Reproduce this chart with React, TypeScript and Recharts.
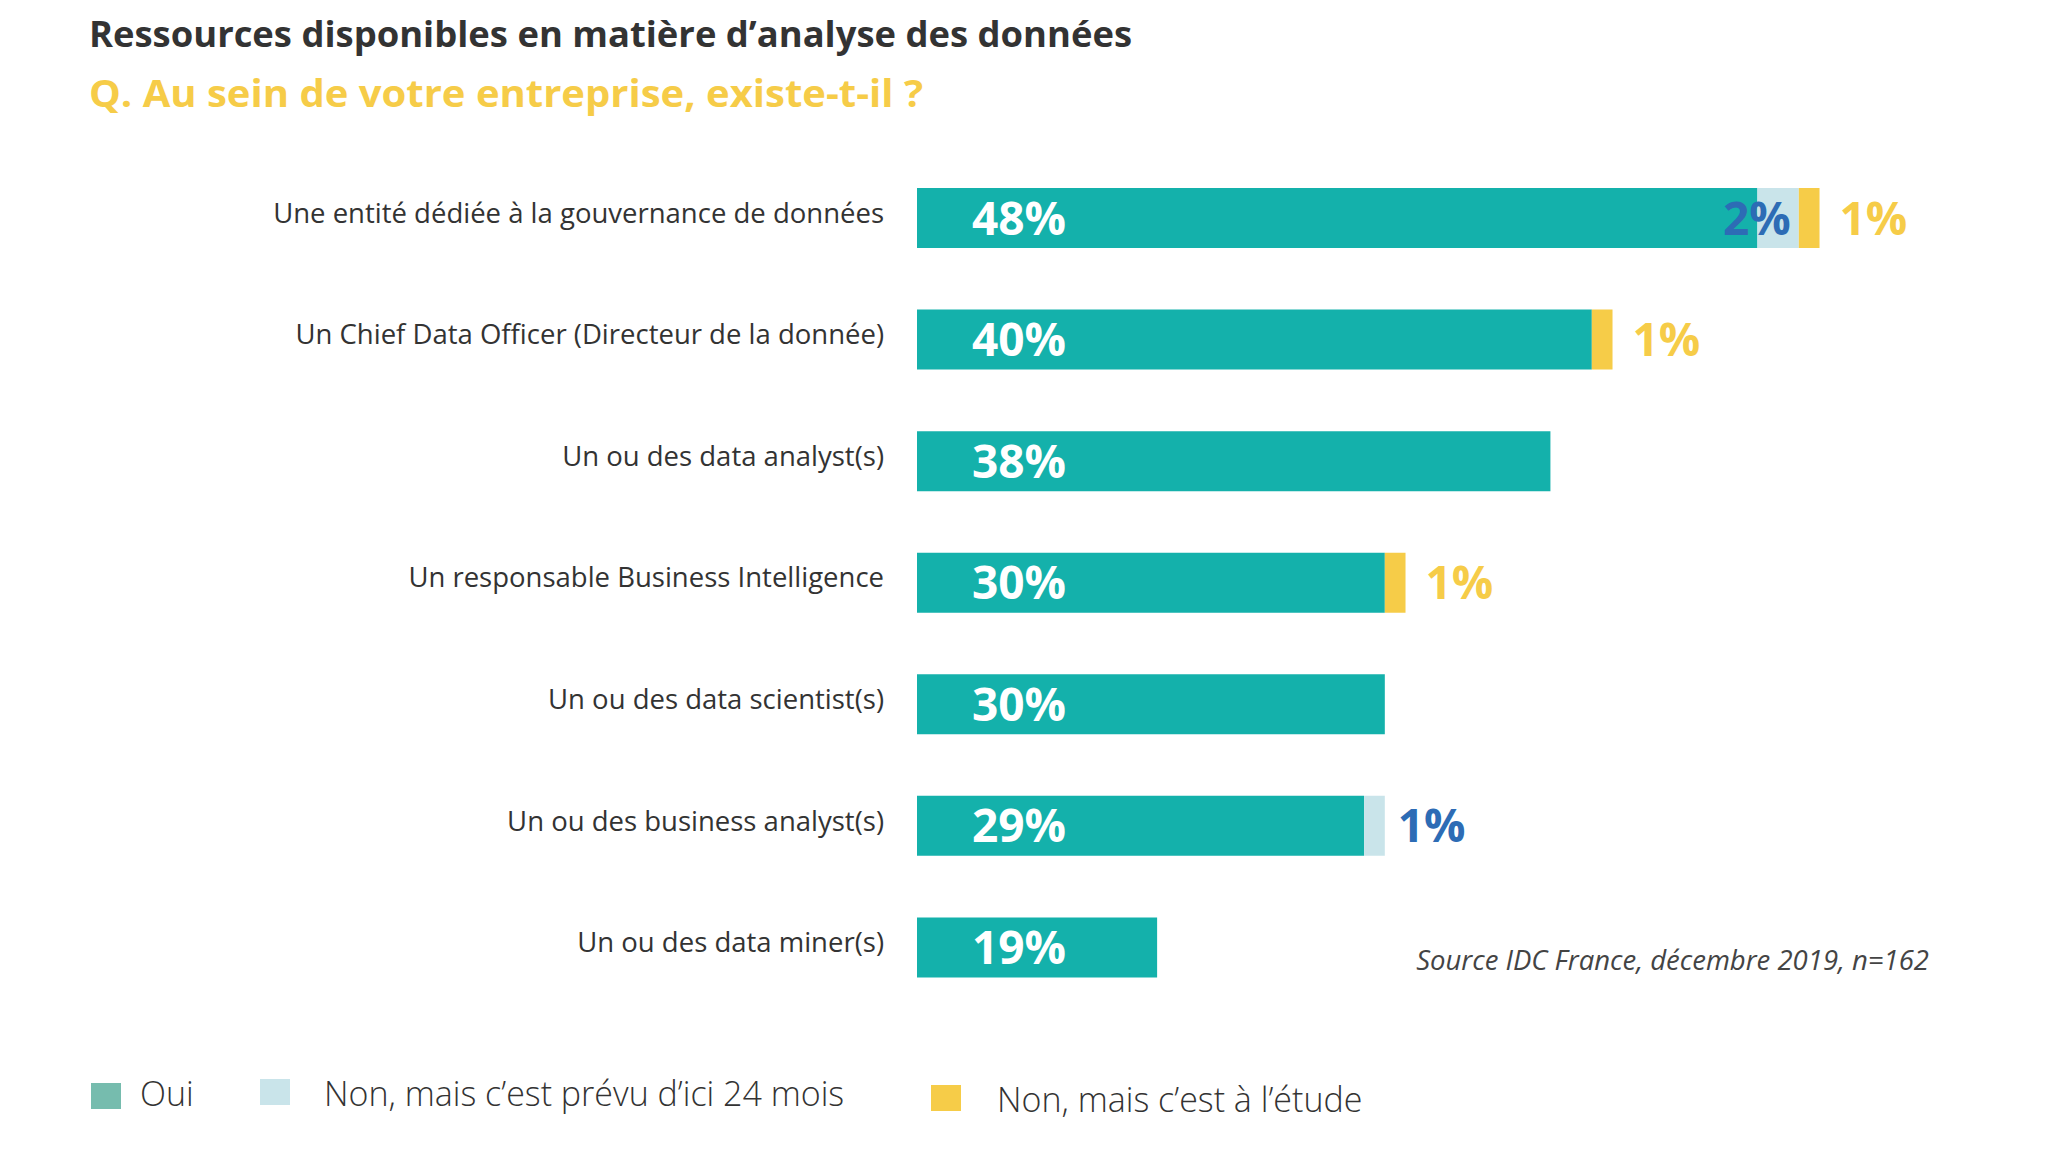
import React from 'react';
import { BarChart, Bar, XAxis, YAxis, LabelList } from 'recharts';

const categories = [
  'Une entité dédiée à la gouvernance de données',
  'Un Chief Data Officer (Directeur de la donnée)',
  'Un ou des data analyst(s)',
  'Un responsable Business Intelligence',
  'Un ou des data scientist(s)',
  'Un ou des business analyst(s)',
  'Un ou des data miner(s)',
];
const oui = [48, 40, 38, 30, 30, 29, 19];
const prevu = [2, 0, 0, 0, 0, 1, 0];
const etude = [1, 1, 0, 1, 0, 0, 0];

const seriesNames = ['Oui', 'Non, mais c’est prévu d’ici 24 mois', 'Non, mais c’est à l’étude'];

const TEAL = '#14b1ab';
const LIGHT = '#c9e4ea';
const YELLOW = '#f6cc48';
const BLUE = '#2d6cb5';
const TEXT = '#333333';
const FONT = '"Open Sans", "Noto Sans", sans-serif';

// the original axis does not start at zero
const AXIS_MIN = 7.4;
const AXIS_MAX = 57.4;

const data = categories.map((name, i) => ({
  name,
  oui: oui[i],
  prevu: prevu[i],
  etude: etude[i],
}));

const pct = (v: number | string) => `${v}%`;

function OuiLabel(props: any) {
  const { x, y, height, value } = props;
  if (!value) return null;
  return (
    <text x={x + 55} y={y + height / 2} dy="0.36em" fill="#fff" fontSize={46} fontWeight={700} fontFamily={FONT}>
      {pct(value)}
    </text>
  );
}

// value comes as "2|in" : label sits inside the segment when a yellow one follows it
function PrevuLabel(props: any) {
  const { x, y, width, height, value } = props;
  if (!value) return null;
  const [v, where] = String(value).split('|');
  const inside = where === 'in';
  return (
    <text
      x={inside ? x + width - 8 : x + width + 13}
      y={y + height / 2}
      dy="0.36em"
      textAnchor={inside ? 'end' : 'start'}
      fill={BLUE}
      fontSize={46}
      fontWeight={700}
      fontFamily={FONT}
    >
      {pct(v)}
    </text>
  );
}

function EtudeLabel(props: any) {
  const { x, y, width, height, value } = props;
  if (!value) return null;
  return (
    <text x={x + width + 20} y={y + height / 2} dy="0.36em" fill={YELLOW} fontSize={46} fontWeight={700} fontFamily={FONT}>
      {pct(value)}
    </text>
  );
}

function CategoryTick(props: any) {
  const { x, y, payload } = props;
  return (
    <text x={x} y={y - 5} dy="0.36em" textAnchor="end" fill={TEXT} fontSize={27.5} fontFamily={FONT}>
      {payload.value}
    </text>
  );
}

const legendItems = [
  { label: seriesNames[0], color: '#76bcae', box: [91, 1083], text: [140, 1094] },
  { label: seriesNames[1], color: LIGHT, box: [260, 1079], text: [324, 1094] },
  { label: seriesNames[2], color: YELLOW, box: [931, 1085], text: [997, 1100] },
];

export default function App() {
  return (
    <div style={{ position: 'absolute', left: 0, top: 0, width: 2048, height: 1163, background: '#fff', overflow: 'hidden' }}>
      <BarChart
        width={2048}
        height={1163}
        data={data}
        layout="vertical"
        margin={{ top: 157, right: 96, bottom: 155, left: 37 }}
      >
        <XAxis type="number" domain={[AXIS_MIN, AXIS_MAX]} allowDataOverflow hide />
        <YAxis
          type="category"
          dataKey="name"
          width={880}
          axisLine={false}
          tickLine={false}
          tickSize={0}
          tickMargin={33}
          tick={<CategoryTick />}
          interval={0}
        />
        <Bar dataKey="oui" stackId="a" fill={TEAL} barSize={60} isAnimationActive={false}>
          <LabelList dataKey="oui" content={<OuiLabel />} />
        </Bar>
        <Bar dataKey="prevu" stackId="a" fill={LIGHT} barSize={60} isAnimationActive={false}>
          <LabelList
            dataKey={(d: any) => (d.prevu ? `${d.prevu}|${d.etude > 0 ? 'in' : 'out'}` : '')}
            content={<PrevuLabel />}
          />
        </Bar>
        <Bar dataKey="etude" stackId="a" fill={YELLOW} barSize={60} isAnimationActive={false}>
          <LabelList dataKey="etude" content={<EtudeLabel />} />
        </Bar>
      </BarChart>

      <svg width={2048} height={1163} style={{ position: 'absolute', left: 0, top: 0, pointerEvents: 'none' }}>
        <text x={89} y={47} fontSize={36} fontWeight={700} fill={TEXT} fontFamily={FONT} textLength={1043} lengthAdjust="spacingAndGlyphs">
          Ressources disponibles en matière d’analyse des données
        </text>
        <text x={89} y={107} fontSize={38} fontWeight={700} fill={YELLOW} fontFamily={FONT} textLength={834} lengthAdjust="spacingAndGlyphs">
          Q. Au sein de votre entreprise, existe-t-il ?
        </text>
        <text x={1929} y={960} dy="0.36em" textAnchor="end" fontSize={27.5} fontStyle="italic" fill="#444" fontFamily={FONT}>
          Source IDC France, décembre 2019, n=162
        </text>
        {legendItems.map((it) => (
          <g key={it.label}>
            <rect x={it.box[0]} y={it.box[1]} width={30} height={26} fill={it.color} />
            <text x={it.text[0]} y={it.text[1]} dy="0.36em" fontSize={34} fontWeight={300} fill={TEXT} fontFamily={FONT}>
              {it.label}
            </text>
          </g>
        ))}
      </svg>
    </div>
  );
}
